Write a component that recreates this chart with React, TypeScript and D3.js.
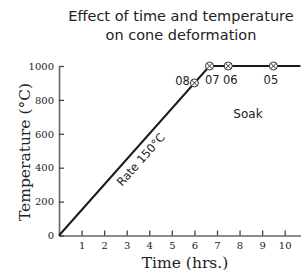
import React, { useEffect, useRef } from 'react';
import * as d3 from 'd3';

// firing curve: rate 150°C/hr up to 1000°C, then soak
const rampTimes = [0, 6.67, 10.7];
const rampTemps = [0, 1000, 1000];

const coneNames = ['08', '07', '06', '05'];
const coneTimes = [6, 6.67, 7.5, 9.5];
const coneTemps = [900, 1000, 1000, 1000];

const xTicks = [1, 2, 3, 4, 5, 6, 7, 8, 9, 10];
const yTicks = [0, 200, 400, 600, 800, 1000];

const App: React.FC = () => {
  const ref = useRef<SVGSVGElement | null>(null);

  useEffect(() => {
    if (!ref.current) return;
    const svg = d3.select(ref.current);
    svg.selectAll('*').remove();

    const serif = '"DejaVu Serif", serif';
    const sans = '"DejaVu Sans", sans-serif';

    const x = d3.scaleLinear().domain([0, 10.7]).range([59, 300.5]);
    const y = d3.scaleLinear().domain([0, 1000]).range([235.5, 66]);

    // title
    const title = svg
      .append('text')
      .attr('text-anchor', 'middle')
      .style('font-family', sans)
      .style('font-size', '14.5px')
      .attr('fill', '#222');
    title.append('tspan').attr('x', 181).attr('y', 20.5).text('Effect of time and temperature');
    title.append('tspan').attr('x', 181).attr('y', 40).text('on cone deformation');

    // axes
    const xAxis = svg
      .append('g')
      .attr('transform', `translate(0,${y(0)})`)
      .call(d3.axisBottom(x).tickValues(xTicks).tickSizeInner(-5).tickSizeOuter(0).tickPadding(4));
    const yAxis = svg
      .append('g')
      .attr('transform', `translate(${x(0)},0)`)
      .call(
        d3
          .axisLeft(y)
          .tickValues(yTicks)
          .tickFormat(d3.format('d'))
          .tickSizeInner(-5)
          .tickSizeOuter(0)
          .tickPadding(5)
      );

    [xAxis, yAxis].forEach((g) => {
      g.select('.domain').attr('stroke', '#666').attr('stroke-width', 1.6);
      g.selectAll('.tick line').attr('stroke', '#444').attr('stroke-width', 1.3);
      g.selectAll('.tick text')
        .attr('fill', '#222')
        .style('font-family', serif)
        .style('font-size', '10px');
    });
    xAxis.selectAll('.tick text').attr('dy', '0.9em');

    // ramp line
    const line = d3
      .line<number>()
      .x((_, i) => x(rampTimes[i]))
      .y((d) => y(d));
    svg
      .append('path')
      .datum(rampTemps)
      .attr('d', line)
      .attr('fill', 'none')
      .attr('stroke', '#1a1a1a')
      .attr('stroke-width', 2);

    // cone markers + labels (label nudges relative to marker)
    const labelDx = [-4.5, 2.8, 2, -2.5];
    const r = 4;
    coneTimes.forEach((t, i) => {
      const cx = x(t);
      const cy = y(coneTemps[i]);
      const g = svg.append('g').attr('transform', `translate(${cx},${cy})`);
      g.append('circle').attr('r', r).attr('fill', '#fff').attr('stroke', '#333').attr('stroke-width', 1);
      const d = r * 0.7;
      g.append('path')
        .attr('d', `M${-d},${-d}L${d},${d}M${-d},${d}L${d},${-d}`)
        .attr('stroke', '#333')
        .attr('stroke-width', 1);

      const first = i === 0;
      svg
        .append('text')
        .attr('x', cx + labelDx[i])
        .attr('y', first ? cy + 2 : cy + 17.5)
        .attr('text-anchor', first ? 'end' : 'middle')
        .style('font-family', sans)
        .style('font-size', '11.5px')
        .attr('fill', '#222')
        .text(coneNames[i]);
    });

    // annotations
    svg
      .append('text')
      .attr('x', 248)
      .attr('y', 118)
      .attr('text-anchor', 'middle')
      .style('font-family', sans)
      .style('font-size', '12px')
      .attr('fill', '#222')
      .text('Soak');

    const angle = (-Math.atan((y(0) - y(1000)) / (x(6.67) - x(0))) * 180) / Math.PI;
    const mx = x(3.27) + 8;
    const my = y(3.27 * 150) + 7.2;
    svg
      .append('text')
      .attr('transform', `translate(${mx},${my}) rotate(${angle})`)
      .attr('text-anchor', 'middle')
      .attr('dy', '0.35em')
      .style('font-family', sans)
      .style('font-size', '11.5px')
      .attr('fill', '#222')
      .text('Rate 150°C');

    // axis titles
    svg
      .append('text')
      .attr('x', 185)
      .attr('y', 268)
      .attr('text-anchor', 'middle')
      .style('font-family', serif)
      .style('font-size', '15.5px')
      .attr('fill', '#222')
      .text('Time (hrs.)');

    svg
      .append('text')
      .attr('transform', `translate(30,152) rotate(-90)`)
      .attr('text-anchor', 'middle')
      .style('font-family', serif)
      .style('font-size', '15.5px')
      .attr('fill', '#222')
      .text('Temperature (°C)');
  }, []);

  return (
    <svg
      ref={ref}
      width={301}
      height={276}
      style={{ position: 'absolute', left: 0, top: 0, background: '#fff' }}
    />
  );
};

export default App;
